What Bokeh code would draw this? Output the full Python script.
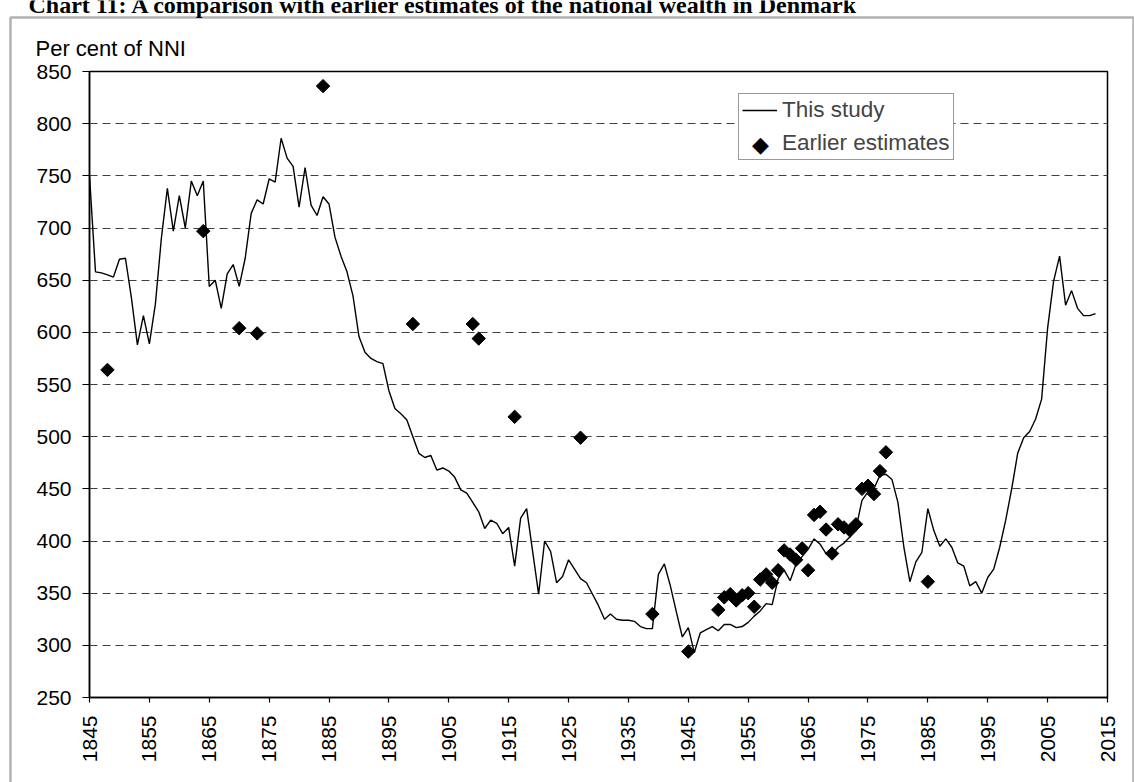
import math
from bokeh.plotting import figure
from bokeh.models import Range1d, FixedTicker, Label, Legend, LegendItem, PolyAnnotation
from bokeh.embed import file_html
from bokeh.resources import INLINE

# ---------------- data ----------------
years = list(range(1845, 2014))
this_study = [
    750, 658, 657, 655, 653, 670, 671, 633, 588, 616,   # 1845-1854
    589, 627, 690, 738, 697, 731, 700, 745, 731, 745,   # 1855-1864
    644, 650, 623, 656, 665, 644, 671, 714, 727, 723,   # 1865-1874
    747, 744, 786, 767, 759, 720, 758, 722, 712, 730,   # 1875-1884
    723, 691, 673, 658, 635, 596, 581, 575, 572, 570,   # 1885-1894
    544, 527, 522, 516, 500, 484, 480, 482, 468, 470,   # 1895-1904
    467, 461, 449, 446, 437, 428, 412, 420, 417, 407,   # 1905-1914
    413, 376, 422, 431, 390, 349, 400, 390, 360, 366,   # 1915-1924
    382, 373, 364, 360, 349, 338, 325, 330, 325, 324,   # 1925-1934
    324, 323, 318, 316, 316, 368, 378, 357, 332, 308,   # 1935-1944
    317, 293, 312, 315, 318, 314, 320, 320, 317, 318,   # 1945-1954
    322, 328, 333, 340, 339, 364, 372, 362, 378, 385,   # 1955-1964
    392, 402, 397, 388, 387, 394, 398, 404, 412, 439,   # 1965-1974
    447, 450, 463, 464, 459, 437, 394, 361, 380, 389,   # 1975-1984
    431, 410, 395, 402, 394, 379, 376, 357, 361, 350,   # 1985-1994
    365, 373, 394, 420, 450, 484, 499, 505, 517, 536,   # 1995-2004
    604, 649, 673, 626, 640, 623, 616, 616, 618,        # 2005-2013
]
est_years = [1848, 1864, 1870, 1873, 1884, 1899, 1909, 1910, 1916, 1927, 1939, 1945,
             1950, 1951, 1952, 1953, 1954, 1955, 1956, 1957, 1958, 1959,
             1960, 1961, 1962, 1963, 1964, 1965, 1966, 1967, 1968, 1969,
             1970, 1971, 1972, 1973, 1974, 1975, 1976, 1977, 1978, 1985]
est_values = [564, 697, 604, 599, 836, 608, 608, 594, 519, 499, 330, 294,
              334, 346, 349, 343, 348, 350, 337, 363, 368, 360,
              372, 391, 387, 382, 393, 372, 425, 428, 411, 388,
              416, 413, 410, 416, 450, 453, 445, 467, 485, 361]
x_ticks = list(range(1845, 2016, 10))
y_ticks = list(range(250, 851, 50))

title_text = "Chart 11: A comparison with earlier estimates of the national wealth in Denmark"
y_title = "Per cent of NNI"
series_names = ["This study", "Earlier estimates"]

W, H = 1134, 782
pinned = {"position": "absolute", "left": "0px", "top": "0px"}

# ---------------- main chart ----------------
p = figure(width=W, height=H, output_backend="svg", toolbar_location=None,
           x_range=Range1d(1845, 2015), y_range=Range1d(250, 850),
           min_border_left=89, min_border_right=27, min_border_top=71, min_border_bottom=85,
           background_fill_color="white", border_fill_color="white",
           outline_line_color="black", outline_line_width=1.5, styles=pinned)

p.xaxis.ticker = FixedTicker(ticks=x_ticks)
p.yaxis.ticker = FixedTicker(ticks=y_ticks)
p.xaxis.major_label_orientation = math.pi / 2
for ax in p.axis:
    ax.axis_line_color = "black"
    ax.axis_line_width = 1.5
    ax.major_tick_line_color = "black"
    ax.major_tick_line_width = 1.2
    ax.minor_tick_line_color = None
    ax.major_tick_in = 0
    ax.major_label_text_font = "Liberation Sans"
    ax.major_label_text_font_size = "21px"
    ax.major_label_text_color = "black"
p.xaxis.major_tick_out = 5
p.yaxis.major_tick_out = 7
p.xaxis.major_label_standoff = 13
p.yaxis.major_label_standoff = 11

p.xgrid.visible = False
p.ygrid.grid_line_color = "#404040"
p.ygrid.grid_line_width = 1
p.ygrid.grid_line_dash = "8 5"

r_line = p.line(years, this_study, line_color="black", line_width=1.4)
r_sc = p.scatter(est_years, est_values, marker="square", size=9.5, angle=math.pi / 4,
                 fill_color="black", line_color="black")
# legend-only renderer without data; the diamond symbol is drawn on the overlay
r_leg = p.scatter(x=[], y=[], marker="square", fill_alpha=0, line_alpha=0)

legend = Legend(items=[LegendItem(label=series_names[0], renderers=[r_line]),
                       LegendItem(label=series_names[1], renderers=[r_leg])],
                location=(649, 537), orientation="vertical",
                label_text_font="Liberation Sans", label_text_font_size="22.5px",
                glyph_width=35, glyph_height=24, label_height=24, label_standoff=5,
                spacing=7, padding=3, margin=0,
                border_line_color="#333333", border_line_width=1,
                background_fill_color="white", background_fill_alpha=1)
p.add_layout(legend)

# ---------------- transparent overlay in page pixels (texts, page box, legend diamond) ----
q = figure(width=W, height=H, output_backend="svg", toolbar_location=None,
           x_range=Range1d(0, W), y_range=Range1d(H, 0), min_border=0,
           x_axis_location=None, y_axis_location=None,
           outline_line_color=None, background_fill_color=None, border_fill_color=None,
           styles=pinned)
q.xgrid.visible = False
q.ygrid.visible = False

# page frame: left, top and right edges; the bottom edge lies below the picture
q.add_layout(PolyAnnotation(xs=[10, 10, W - 1, W - 1], ys=[H + 60, 17, 17, H + 60],
                            fill_color=None, fill_alpha=0,
                            line_color="black", line_width=2.5))
q.add_layout(Label(x=28, y=4, text=title_text, text_font="Liberation Serif",
                   text_font_style="bold", text_font_size="24px",
                   text_baseline="alphabetic", text_color="black"))
q.add_layout(Label(x=35, y=48.3, text=y_title, text_font="Liberation Sans",
                   text_font_size="22px", text_baseline="alphabetic", text_color="black"))
q.add_layout(Label(x=760, y=144, text="\u25C6", text_font="DejaVu Sans",
                   text_font_size="22px", text_align="center", text_baseline="middle",
                   text_color="black"))

open("out.html", "w").write(file_html([p, q], INLINE))
